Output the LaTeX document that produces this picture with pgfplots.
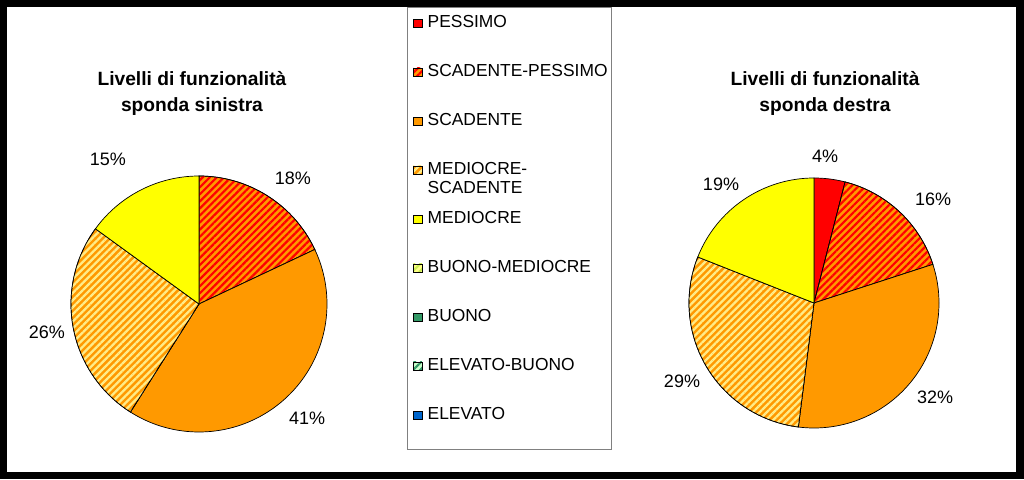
\documentclass[border=0pt]{standalone}
\usepackage{pgfplots}
\pgfplotsset{compat=1.18}
\usepackage{fontspec}
\setmainfont{Liberation Sans}
\usetikzlibrary{patterns.meta}

\definecolor{cRed}{HTML}{FF0000}
\definecolor{cOrange}{HTML}{FF9900}
\definecolor{cYellow}{HTML}{FFFF00}
\definecolor{cPale}{HTML}{FFEC88}
\definecolor{cLime}{HTML}{CCEE55}
\definecolor{cLimeBg}{HTML}{FFFF88}
\definecolor{cGreen}{HTML}{339966}
\definecolor{cGreenBg}{HTML}{CCFFCC}
\definecolor{cBlue}{HTML}{0066CC}

\tikzset{
  stPESS/.style={fill=cRed},
  stSCPE/.style={fill=cOrange, postaction={pattern={Lines[angle=45,distance=5pt,line width=2.2pt]}, pattern color=cRed}},
  stSCAD/.style={fill=cOrange},
  stMESC/.style={fill=cOrange, postaction={pattern={Lines[angle=45,distance=5pt,line width=2.3pt]}, pattern color=cPale}},
  stMEDI/.style={fill=cYellow},
  stBUME/.style={fill=cLimeBg, postaction={pattern={Lines[angle=45,distance=5pt,line width=2.2pt]}, pattern color=cLime}},
  stBUON/.style={fill=cGreen},
  stELBU/.style={fill=cGreenBg, postaction={pattern={Lines[angle=45,distance=5pt,line width=2.2pt]}, pattern color=cGreen}},
  stELEV/.style={fill=cBlue},
}

\pgfplotsset{
  pie/.style={scale only axis, hide axis, clip=false,
    xmin=-1, xmax=1, ymin=-1, ymax=1, anchor=center},
  slice/.style={draw=black, line width=0.7pt, samples=90, variable=\t},
}

\begin{document}
\begin{tikzpicture}
\fill[black] (0pt,0pt) rectangle (1024pt,479pt);
\fill[white] (7pt,7pt) rectangle (1016pt,472pt);
\draw[gray, line width=0.8pt] (407pt,30pt) rectangle (611pt,472pt);

% ---------- left pie (sponda sinistra): 0, 18, 41, 26, 15 ----------
\begin{axis}[pie, at={(199pt,175pt)}, width=256pt, height=256pt]
\addplot[slice, stSCPE, domain=0:18] ({sin(3.6*\t)},{cos(3.6*\t)}) -- (axis cs:0,0) -- cycle;
\addplot[slice, stSCAD, domain=18:59] ({sin(3.6*\t)},{cos(3.6*\t)}) -- (axis cs:0,0) -- cycle;
\addplot[slice, stMESC, domain=59:85] ({sin(3.6*\t)},{cos(3.6*\t)}) -- (axis cs:0,0) -- cycle;
\addplot[slice, stMEDI, domain=85:100] ({sin(3.6*\t)},{cos(3.6*\t)}) -- (axis cs:0,0) -- cycle;
\begin{scope}[every node/.style={font=\fontsize{18}{20}\selectfont}]
\node at (axis cs:0.734,0.984) {18\%};
\node at (axis cs:0.844,-0.891) {41\%};
\node at (axis cs:-1.188,-0.219) {26\%};
\node at (axis cs:-0.711,1.133) {15\%};
\end{scope}
\node[align=center, font=\fontsize{19.2}{26}\selectfont\bfseries] at (axis cs:-0.055,1.648) {Livelli di funzionalità\\sponda sinistra};
\end{axis}

% ---------- right pie (sponda destra): 4, 16, 32, 29, 19 ----------
\begin{axis}[pie, at={(814pt,176pt)}, width=250pt, height=250pt]
\addplot[slice, stPESS, domain=0:4] ({sin(3.6*\t)},{cos(3.6*\t)}) -- (axis cs:0,0) -- cycle;
\addplot[slice, stSCPE, domain=4:20] ({sin(3.6*\t)},{cos(3.6*\t)}) -- (axis cs:0,0) -- cycle;
\addplot[slice, stSCAD, domain=20:52] ({sin(3.6*\t)},{cos(3.6*\t)}) -- (axis cs:0,0) -- cycle;
\addplot[slice, stMESC, domain=52:81] ({sin(3.6*\t)},{cos(3.6*\t)}) -- (axis cs:0,0) -- cycle;
\addplot[slice, stMEDI, domain=81:100] ({sin(3.6*\t)},{cos(3.6*\t)}) -- (axis cs:0,0) -- cycle;
\begin{scope}[every node/.style={font=\fontsize{18}{20}\selectfont}]
\node at (axis cs:0.088,1.176) {4\%};
\node at (axis cs:0.952,0.832) {16\%};
\node at (axis cs:0.968,-0.752) {32\%};
\node at (axis cs:-1.056,-0.624) {29\%};
\node at (axis cs:-0.744,0.952) {19\%};
\end{scope}
\node[align=center, font=\fontsize{19.2}{26}\selectfont\bfseries] at (axis cs:0.088,1.68) {Livelli di funzionalità\\sponda destra};
\end{axis}

% ---------- legend ----------
\begin{axis}[scale only axis, hide axis, at={(407pt,30pt)}, anchor=south west,
  width=204pt, height=442pt, xmin=0, xmax=1, ymin=0, ymax=1,
  legend image code/.code={\draw[#1, draw=black, line width=0.5pt] (0pt,-4.8pt) rectangle (8.5pt,3.8pt);},
  legend style={at={(0,1)}, anchor=north west, xshift=6pt, yshift=-7pt,
    draw=none, fill=none, inner sep=0pt, row sep=32pt, column sep=5.5pt,
    font=\fontsize{17.4}{19}\selectfont,
    nodes={inner sep=0pt, text height=13pt, text depth=4pt}},
  legend cell align=left]
\addlegendimage{stPESS}\addlegendentry{PESSIMO}
\addlegendimage{stSCPE}\addlegendentry{SCADENTE-PESSIMO}
\addlegendimage{stSCAD}\addlegendentry{SCADENTE}
\addlegendimage{stMESC}\addlegendentry{\vtop{\hbox{MEDIOCRE-}\hbox{SCADENTE}}}
\addlegendimage{stMEDI}\addlegendentry{MEDIOCRE}
\addlegendimage{stBUME}\addlegendentry{BUONO-MEDIOCRE}
\addlegendimage{stBUON}\addlegendentry{BUONO}
\addlegendimage{stELBU}\addlegendentry{ELEVATO-BUONO}
\addlegendimage{stELEV}\addlegendentry{ELEVATO}
\end{axis}
\end{tikzpicture}
\end{document}
